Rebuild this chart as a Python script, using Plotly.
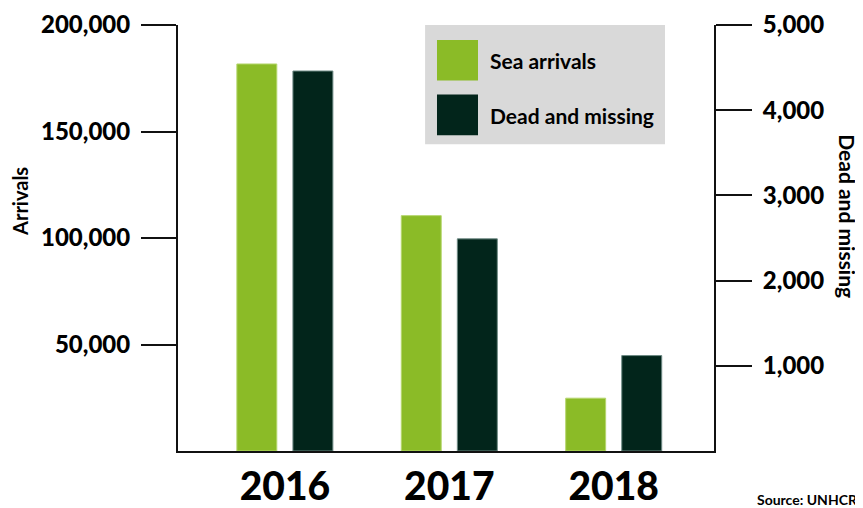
import plotly.graph_objects as go

# ---- data ----
years = ["2016", "2017", "2018"]
sea_arrivals = [181700, 110500, 24800]
dead_missing = [4460, 2490, 1120]
left_ticks = [50000, 100000, 150000, 200000]
left_ticktext = ["50,000", "100,000", "150,000", "200,000"]
right_ticks = [1000, 2000, 3000, 4000, 5000]
right_ticktext = ["1,000", "2,000", "3,000", "4,000", "5,000"]

GREEN = "#8BBB27"
DARK = "#02251B"
FONT = "Lato, 'Open Sans', sans-serif"

xpos = list(range(len(years)))

fig = go.Figure()
fig.add_trace(go.Bar(
    x=xpos, y=sea_arrivals, name="Sea arrivals",
    marker=dict(color=GREEN, line=dict(color="#b5d66e", width=1)),
    width=0.243, offset=-0.292, yaxis="y", showlegend=False,
))
fig.add_trace(go.Bar(
    x=xpos, y=dead_missing, name="Dead and missing",
    marker=dict(color=DARK, line=dict(color="#6d8a84", width=1)),
    width=0.243, offset=0.049, yaxis="y2", showlegend=False,
))

# page body has an 8px margin, so the figure is sized/placed to compensate
fig.update_layout(
    template="none",
    width=855, height=500,
    margin=dict(l=170, r=149, t=17, b=57, autoexpand=False),
    paper_bgcolor="white", plot_bgcolor="white",
    barmode="overlay",
    font=dict(family=FONT, color="black"),
    xaxis=dict(
        range=[-0.65, 2.61], tickvals=xpos, ticktext=years,
        showline=True, linecolor="#111", linewidth=2,
        ticks="", showgrid=False, zeroline=False, automargin=False,
        tickfont=dict(size=39, family=FONT, weight=900),
        ticklabelstandoff=0, ticklabeloverflow="allow",
    ),
    yaxis=dict(
        range=[0, 200000], tickvals=left_ticks, ticktext=left_ticktext,
        showline=True, linecolor="#111", linewidth=2,
        ticks="outside", ticklen=35, tickwidth=2, tickcolor="#111",
        showgrid=False, zeroline=False, automargin=False,
        tickfont=dict(size=24, family=FONT, weight=900),
        ticklabelstandoff=6, ticklabeloverflow="allow",
    ),
    yaxis2=dict(
        range=[0, 5000], tickvals=right_ticks, ticktext=right_ticktext,
        overlaying="y", side="right",
        showline=True, linecolor="#111", linewidth=2,
        ticks="outside", ticklen=36, tickwidth=2, tickcolor="#111",
        showgrid=False, zeroline=False, automargin=False,
        tickfont=dict(size=24, family=FONT, weight=900),
        ticklabelstandoff=6, ticklabeloverflow="allow",
    ),
)

# legend drawn manually (large swatches)
shapes = [
    dict(type="rect", xref="paper", yref="paper", x0=0.461, x1=0.9086, y0=0.72, y1=1.0,
         fillcolor="#D9D9D9", line=dict(width=0), layer="above"),
    dict(type="rect", xref="paper", yref="paper", x0=0.4832, x1=0.5597, y0=0.8695, y1=0.965,
         fillcolor=GREEN, line=dict(width=0), layer="above"),
    dict(type="rect", xref="paper", yref="paper", x0=0.4832, x1=0.5597, y0=0.7413, y1=0.8368,
         fillcolor=DARK, line=dict(width=0), layer="above"),
]
fig.update_layout(shapes=shapes)

annotations = [
    dict(text="Sea arrivals", xref="paper", yref="paper", x=0.5784, y=0.916,
         xanchor="left", yanchor="middle", showarrow=False,
         font=dict(size=21, family=FONT, weight=700)),
    dict(text="Dead and missing", xref="paper", yref="paper", x=0.5784, y=0.788,
         xanchor="left", yanchor="middle", showarrow=False,
         font=dict(size=21, family=FONT, weight=700)),
    dict(text="Arrivals", xref="paper", yref="paper", x=-0.2948, y=0.587,
         xanchor="center", yanchor="middle", textangle=-90, showarrow=False,
         font=dict(size=20, family=FONT, weight=700)),
    dict(text="Dead and missing", xref="paper", yref="paper", x=1.249, y=0.55,
         xanchor="center", yanchor="middle", textangle=90, showarrow=False,
         font=dict(size=21, family=FONT, weight=700)),
    dict(text="Source: UNHCR", xref="paper", yref="paper", x=1.272, y=-0.114,
         xanchor="right", yanchor="middle", showarrow=False,
         font=dict(size=14, family=FONT, weight=700)),
]
fig.update_layout(annotations=annotations)

fig.write_html("out.html")
